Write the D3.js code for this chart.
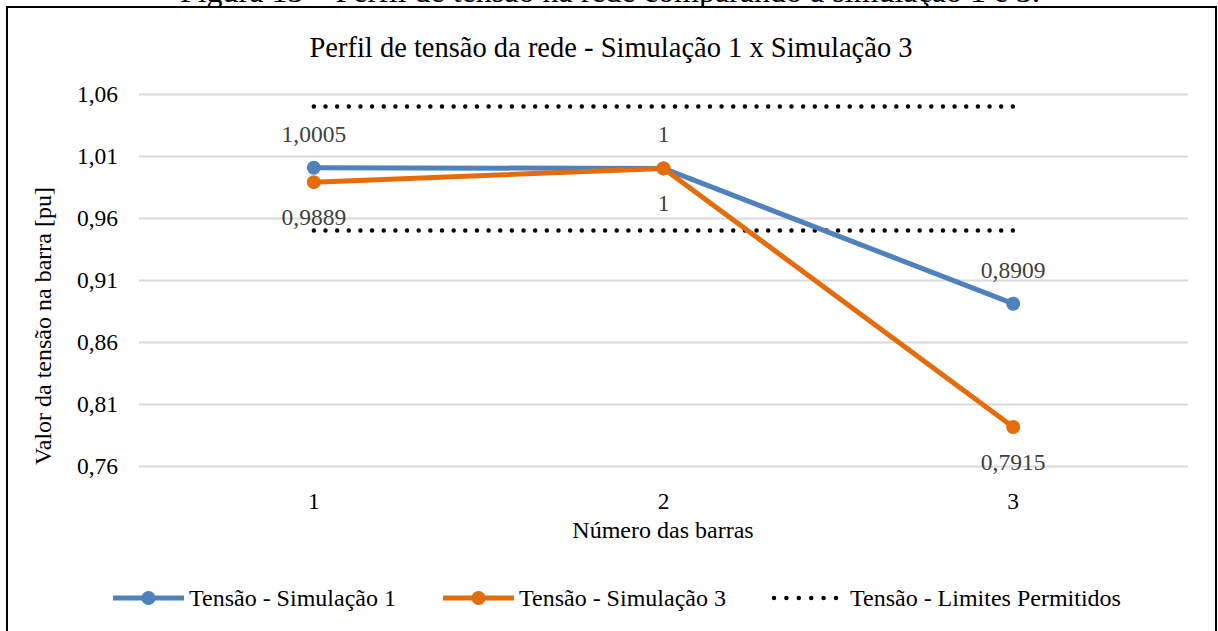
<!DOCTYPE html>
<html><head><meta charset="utf-8">
<script src="https://cdn.jsdelivr.net/npm/d3@7"></script>
<style>body{margin:0;background:#fff}svg{display:block}</style>
</head><body><svg id="c" width="1218" height="631"></svg>
<script>
const categories = ["1","2","3"];
const sim1 = [1.0005, 1, 0.8909];
const sim3 = [0.9889, 1, 0.7915];
const sim1Labels = ["1,0005","1","0,8909"];
const sim3Labels = ["0,9889","1","0,7915"];
const limitUpper = [1.05, 1.05, 1.05];
const limitLower = [0.95, 0.95, 0.95];
const yTicks = [0.76, 0.81, 0.86, 0.91, 0.96, 1.01, 1.06];
const seriesNames = ["Tens\u00e3o - Simula\u00e7\u00e3o 1","Tens\u00e3o - Simula\u00e7\u00e3o 3","Tens\u00e3o - Limites Permitidos"];
const colors = {s1:"#4F81BD", s3:"#E46C0A", lim:"#000"};
const FONT = "'Liberation Serif', 'Times New Roman', Times, serif";

const svg = d3.select("#c");
// caption cut at top
svg.append("text").attr("x",610).attr("y",2).attr("text-anchor","middle")
  .attr("font-size",32).attr("fill","#000")
  .text("Figura 13 \u2013 Perfil de tens\u00e3o na rede comparando a simula\u00e7\u00e3o 1 e 3.");
// frame
svg.append("rect").attr("x",7).attr("y",7).attr("width",1209).attr("height",640)
  .attr("fill","#fff").attr("stroke","#000").attr("stroke-width",2);

const x = d3.scaleBand().domain(categories).range([139,1188]);
const xc = d => x(d)+x.bandwidth()/2;
const y = d3.scaleLinear().domain([0.76,1.06]).range([466,94]);

// grid
const yAxis = d3.axisLeft(y).tickValues(yTicks).tickSize(-(1188-139)).tickPadding(21)
  .tickFormat(d => d3.format(".2f")(d).replace(".",","));
const ga = svg.append("g").attr("transform","translate(139,0)").call(yAxis);
ga.select(".domain").remove();
ga.selectAll(".tick line").attr("stroke","#D9D9D9").attr("stroke-width",2);
ga.selectAll(".tick text").attr("font-size",23.5).attr("fill","#000");

const xAxis = d3.axisBottom(x).tickSize(0).tickPadding(26);
const gx = svg.append("g").attr("transform","translate(0,466)").call(xAxis);
gx.select(".domain").remove();
gx.selectAll(".tick text").attr("font-size",23.5).attr("fill","#000");

// titles
svg.append("text").attr("x",611).attr("y",57).attr("text-anchor","middle")
  .attr("font-size",28.5).attr("fill","#000").text("Perfil de tens\u00e3o da rede - Simula\u00e7\u00e3o 1 x Simula\u00e7\u00e3o 3");
svg.append("text").attr("x",663).attr("y",538).attr("text-anchor","middle")
  .attr("font-size",24).attr("fill","#000").text("N\u00famero das barras");
svg.append("text").attr("transform","translate(51,326) rotate(-90)").attr("text-anchor","middle")
  .attr("font-size",24).attr("fill","#000").text("Valor da tens\u00e3o na barra [pu]");

// limits dotted
const line = d3.line().x((d,i)=>xc(categories[i])).y(d=>y(d));
[limitUpper, limitLower].forEach(arr => {
  svg.append("path").attr("d", line(arr)).attr("fill","none").attr("stroke","#000")
    .attr("stroke-width",4.5).attr("stroke-linecap","round").attr("stroke-dasharray","0 11.65");
});

function drawSeries(vals, color){
  svg.append("path").attr("d", line(vals)).attr("fill","none").attr("stroke",color)
    .attr("stroke-width",5).attr("stroke-linejoin","round");
  svg.selectAll(null).data(vals).enter().append("circle")
    .attr("cx",(d,i)=>xc(categories[i])).attr("cy",d=>y(d)).attr("r",7).attr("fill",color);
}
drawSeries(sim1, colors.s1);
drawSeries(sim3, colors.s3);

// data labels
svg.selectAll(null).data(sim1).enter().append("text")
  .attr("x",(d,i)=>xc(categories[i])).attr("y",d=>y(d)-26).attr("text-anchor","middle")
  .attr("font-size",23.5).attr("fill","#404040").text((d,i)=>sim1Labels[i]);
svg.selectAll(null).data(sim3).enter().append("text")
  .attr("x",(d,i)=>xc(categories[i])).attr("y",d=>y(d)+43).attr("text-anchor","middle")
  .attr("font-size",23.5).attr("fill","#404040").text((d,i)=>sim3Labels[i]);

// legend
const ly = 598;
const leg = [{x0:113, c:colors.s1, type:"line"},{x0:443, c:colors.s3, type:"line"},{x0:774, c:"#000", type:"dot"}];
leg.forEach((l,i)=>{
  if(l.type==="line"){
    svg.append("line").attr("x1",l.x0).attr("x2",l.x0+71).attr("y1",ly).attr("y2",ly)
      .attr("stroke",l.c).attr("stroke-width",5);
    svg.append("circle").attr("cx",l.x0+35.5).attr("cy",ly).attr("r",7).attr("fill",l.c);
    svg.append("text").attr("x",l.x0+76).attr("y",ly+8).attr("font-size",24).attr("fill","#000").text(seriesNames[i]);
  } else {
    svg.append("line").attr("x1",l.x0).attr("x2",l.x0+62.5).attr("y1",ly).attr("y2",ly)
      .attr("stroke","#000").attr("stroke-width",4.5).attr("stroke-linecap","round").attr("stroke-dasharray","0 12.4");
    svg.append("text").attr("x",l.x0+76).attr("y",ly+8).attr("font-size",24).attr("fill","#000").text(seriesNames[i]);
  }
});
svg.selectAll("text").style("font-family", FONT);
</script></body></html>
